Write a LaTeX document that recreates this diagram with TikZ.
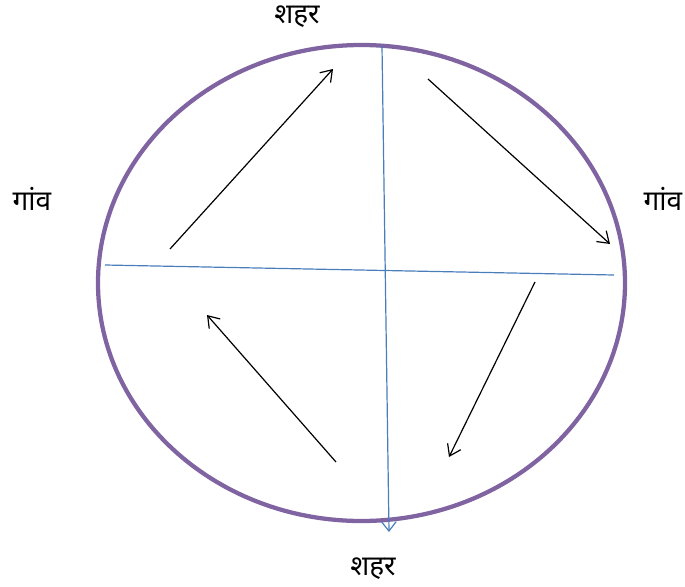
\documentclass[tikz,border=0pt]{standalone}
\usepackage{fontspec}
\newfontfamily\deva[Script=Devanagari]{Noto Sans}
\usetikzlibrary{arrows.meta,shapes.geometric}
\definecolor{ringpurple}{HTML}{8064A2}
\definecolor{axisblue}{HTML}{4A7EBB}
\tikzset{
  ring/.style={draw=ringpurple, line width=3.2pt},
  axisline/.style={draw=axisblue, line width=0.9pt},
  flow/.style={draw=black, line width=0.9pt, -{Straight Barb[length=8pt,width=11pt,line width=0.9pt]}},
  lbl/.style={font=\deva\fontsize{21}{24}\selectfont, inner sep=0pt}
}
\begin{document}
\begin{tikzpicture}[x=0.75pt,y=-0.75pt]
\useasboundingbox (0,0) rectangle (685,586);
\node[ring, ellipse, minimum width=527*0.75pt, minimum height=476*0.75pt, inner sep=0pt] (ring) at (361.5,283) {};
% axes
\coordinate (hl) at (105,265);
\coordinate (hr) at (614,275);
\coordinate (vt) at (382,46);
\coordinate (vb) at (389,532);
\draw[axisline] (hl) -- (hr);
\draw[axisline, -{Straight Barb[length=7pt,width=11pt,line width=0.9pt]}] (vt) -- (vb);
% flow arrows
\coordinate (a1s) at (170,249); \coordinate (a1e) at (333,69);
\coordinate (a2s) at (428,79);  \coordinate (a2e) at (610,244);
\coordinate (a3s) at (535,282); \coordinate (a3e) at (449,457);
\coordinate (a4s) at (336,462); \coordinate (a4e) at (207,315);
\draw[flow] (a1s) -- (a1e);
\draw[flow] (a2s) -- (a2e);
\draw[flow] (a3s) -- (a3e);
\draw[flow] (a4s) -- (a4e);
% labels
\node[lbl] (ttop) at (297,17) {शहर};
\node[lbl] (tleft) at (32,199) {गांव};
\node[lbl] (tright) at (663,199) {गांव};
\node[lbl] (tbot) at (373,569) {शहर};
\end{tikzpicture}
\end{document}
